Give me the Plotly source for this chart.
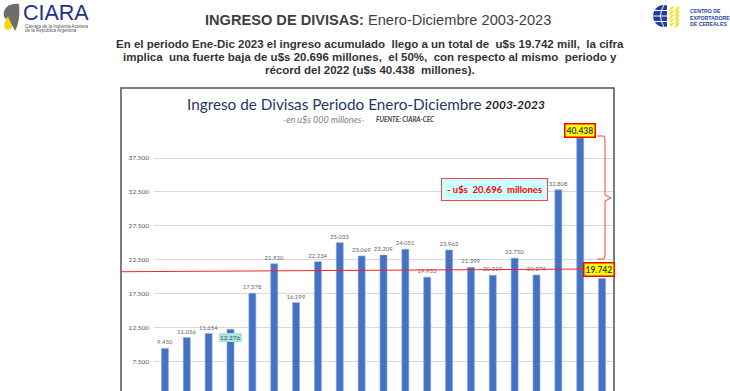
import plotly.graph_objects as go

years = list(range(2003, 2024))
values = [9450, 11056, 11654, 12276, 17578, 21920, 16199, 22234, 25033, 23069,
          23209, 24051, 19953, 23963, 21399, 20219, 22750, 20274, 32808, 40438, 19742]
tick_vals = [7500, 12500, 17500, 22500, 27500, 32500, 37500]
tick_text = ["7.500", "12.500", "17.500", "22.500", "27.500", "32.500", "37.500"]
highlight_years = [2006, 2022, 2023]
drop_text = "- u$s  20.696  millones"
ref_line = [20750, 21150]

W, H = 730, 391
def px(x): return x / W
def py(y): return 1 - y / H

def fmt(v):
    return f"{v:,}".replace(",", ".")

labels = ["" if y in highlight_years else fmt(v) for y, v in zip(years, values)]

fig = go.Figure()
fig.add_trace(go.Bar(
    x=years, y=values, text=labels, textposition="outside", constraintext="none",
    textfont=dict(size=6, color="#666666", family="Lato"),
    marker=dict(color="#4472c4", line=dict(color="#8eaadb", width=0.6)),
    cliponaxis=False, hoverinfo="skip",
))

y_lo, y_hi = 3185, 42360
fig.update_layout(
    width=W, height=H, margin=dict(l=0, r=0, t=0, b=0),
    paper_bgcolor="white", plot_bgcolor="white", showlegend=False,
    bargap=0.68,
    xaxis=dict(type="linear", range=[years[0] - 0.5, years[-1] + 0.5],
               domain=[px(154), px(613)], showticklabels=False, showgrid=False,
               zeroline=False, showline=False, ticks=""),
    yaxis=dict(domain=[0, py(125)], range=[y_lo, y_hi], tickvals=tick_vals,
               ticktext=tick_text, showgrid=True, gridcolor="#d9d9d9", gridwidth=1,
               zeroline=False, showline=False, ticklabelstandoff=4,
               tickfont=dict(size=6.5, color="#595959", family="Lato")),
)

shapes = []
# chart frame
shapes.append(dict(type="rect", xref="paper", yref="paper", x0=px(121), x1=px(614),
                   y0=-0.05, y1=py(88), line=dict(color="#44546a", width=1.5),
                   fillcolor="rgba(0,0,0,0)", layer="below"))
# red reference line
shapes.append(dict(type="line", xref="paper", yref="y", x0=px(121), x1=px(588),
                   y0=ref_line[0], y1=ref_line[1], line=dict(color="#ff2020", width=1)))
# brace
shapes.append(dict(type="path", xref="paper", yref="paper",
                   path=(f"M {px(597)},{py(136)} L {px(604)},{py(136)} L {px(605)},{py(140)} "
                         f"L {px(605)},{py(195)} L {px(611)},{py(198)} L {px(605)},{py(201)} "
                         f"L {px(605)},{py(255)} L {px(604)},{py(259)} L {px(597)},{py(259)}"),
                   line=dict(color="#ff4040", width=1)))
# CIARA logo leaf & drop
shapes.append(dict(type="path", xref="paper", yref="paper",
                   path=(f"M {px(4)},{py(17)} C {px(2)},{py(6)} {px(12)},{py(3)} {px(19)},{py(4)} "
                         f"C {px(20)},{py(14)} {px(19)},{py(24)} {px(15)},{py(31)} "
                         f"C {px(12)},{py(24)} {px(8)},{py(20)} {px(4)},{py(17)} Z"),
                   fillcolor="#6d6d6d", line=dict(width=0)))
shapes.append(dict(type="path", xref="paper", yref="paper",
                   path=(f"M {px(8)},{py(16)} C {px(6)},{py(21)} {px(3)},{py(24)} {px(5)},{py(28)} "
                         f"C {px(7)},{py(31)} {px(11)},{py(30)} {px(12)},{py(27)} "
                         f"C {px(12)},{py(23)} {px(9)},{py(20)} {px(8)},{py(16)} Z"),
                   fillcolor="#f5d400", line=dict(width=0)))
# globe logo
shapes.append(dict(type="circle", xref="paper", yref="paper", x0=px(653), x1=px(675),
                   y0=py(27), y1=py(5), fillcolor="#1f3f9f", line=dict(width=0)))
for yy in [10.5, 16, 21.5]:
    shapes.append(dict(type="line", xref="paper", yref="paper", x0=px(653), x1=px(675),
                       y0=py(yy), y1=py(yy), line=dict(color="white", width=1)))
shapes.append(dict(type="path", xref="paper", yref="paper",
                   path=f"M {px(664)},{py(5)} Q {px(657)},{py(16)} {px(664)},{py(27)}",
                   line=dict(color="white", width=1)))
shapes.append(dict(type="rect", xref="paper", yref="paper", x0=px(667), x1=px(676),
                   y0=py(28), y1=py(4), fillcolor="white", line=dict(width=0)))
for i, yy in enumerate([8, 12, 16, 20, 24]):
    shapes.append(dict(type="path", xref="paper", yref="paper",
                       path=(f"M {px(669)},{py(yy+3)} Q {px(670)},{py(yy-1)} {px(674)},{py(yy-2)} "
                             f"Q {px(673)},{py(yy+2)} {px(669)},{py(yy+3)} Z"),
                       fillcolor="#f2e200", line=dict(width=0)))
    shapes.append(dict(type="path", xref="paper", yref="paper",
                       path=(f"M {px(675)},{py(yy+4)} Q {px(675)},{py(yy)} {px(679)},{py(yy-2)} "
                             f"Q {px(679)},{py(yy+2)} {px(675)},{py(yy+4)} Z"),
                       fillcolor="#f2e200", line=dict(width=0)))
fig.update_layout(shapes=shapes)

ann = []
def A(x, y, text, size, color="#404040", family="Liberation Sans", xanchor="left", **kw):
    ann.append(dict(xref="paper", yref="paper", x=px(x), y=py(y), text=text,
                    showarrow=False, xanchor=xanchor, yanchor="middle",
                    font=dict(size=size, color=color, family=family), **kw))

# header
A(203, 20, "<b>INGRESO DE DIVISAS:</b> Enero-Diciembre 2003-2023", 14.6, color="#3f3f3f")
A(370, 44, "<b>En el periodo Ene-Dic 2023 el ingreso acumulado  llego a un total de  u$s 19.742 mill,  la cifra</b>",
  11.5, color="#333333", xanchor="center")
A(370, 57, "<b>implica  una fuerte baja de u$s 20.696 millones,  el 50%,  con respecto al mismo  periodo y</b>",
  11.5, color="#333333", xanchor="center")
A(370, 70, "<b>récord del 2022 (u$s 40.438  millones).</b>", 11.5, color="#333333", xanchor="center")
# CIARA logo text
A(21, 13, "CIARA", 21.5, color="#1c2f8c")
A(23, 26, "Cámara de la Industria Aceitera", 4.5, color="#555555")
A(23, 30.5, "de la República Argentina", 4.5, color="#555555")
# CEC logo text
A(688, 11, "<b>CENTRO DE</b>", 5.2, color="#1f3f9f")
A(688, 17.5, "<b>EXPORTADORE</b>", 5.2, color="#1f3f9f")
A(688, 24, "<b>DE CEREALES</b>", 5.2, color="#1f3f9f")
# chart title
A(185, 104, "Ingreso de Divisas Periodo Enero-Diciembre", 15.3, color="#1f3864", family="Lato")
A(483, 104, "<b><i>2003-2023</i></b>", 12, color="#1f1f1f", family="Lato")
A(281, 119, "<i>-en u$s 000 millones-</i>", 9, color="#7f7f7f", family="Lato")
A(374, 119.5, "<b><i>FUENTE: CIARA-CEC</i></b>", 6.5, color="#404040", family="Lato")
# drop annotation box
A(494.5, 189.5, f"<b>{drop_text}</b>", 9.5, color="#ff0000", family="Lato", xanchor="center",
  bgcolor="#ccffff", bordercolor="#ff4040", borderwidth=1, borderpad=5)

# highlighted data labels
styles = {
    2006: dict(bgcolor="#a9e5e1", bordercolor="#a9e5e1", color="#44546a", bold=False, yshift=-8, xshift=0),
    2022: dict(bgcolor="#ffff00", bordercolor="#ff0000", color="#404040", bold=True, yshift=8, xshift=0),
    2023: dict(bgcolor="#ffff00", bordercolor="#ff0000", color="#404040", bold=True, yshift=9, xshift=-3),
}
for yr, v in zip(years, values):
    if yr in styles:
        s = styles[yr]
        t = fmt(v)
        ann.append(dict(xref="x", yref="y", x=yr, y=v, text=(f"<b>{t}</b>" if s["bold"] else t),
                        showarrow=False, yshift=s["yshift"], xshift=s["xshift"],
                        font=dict(size=(8.5 if s["bold"] else 6.5), color=s["color"], family="Lato"),
                        bgcolor=s["bgcolor"], bordercolor=s["bordercolor"],
                        borderwidth=(1.5 if s["bold"] else 0), borderpad=1))
fig.update_layout(annotations=ann)

fig.write_html("out.html", config={"displayModeBar": False},
               post_script="document.body.style.margin='0';document.body.style.overflow='hidden';")
